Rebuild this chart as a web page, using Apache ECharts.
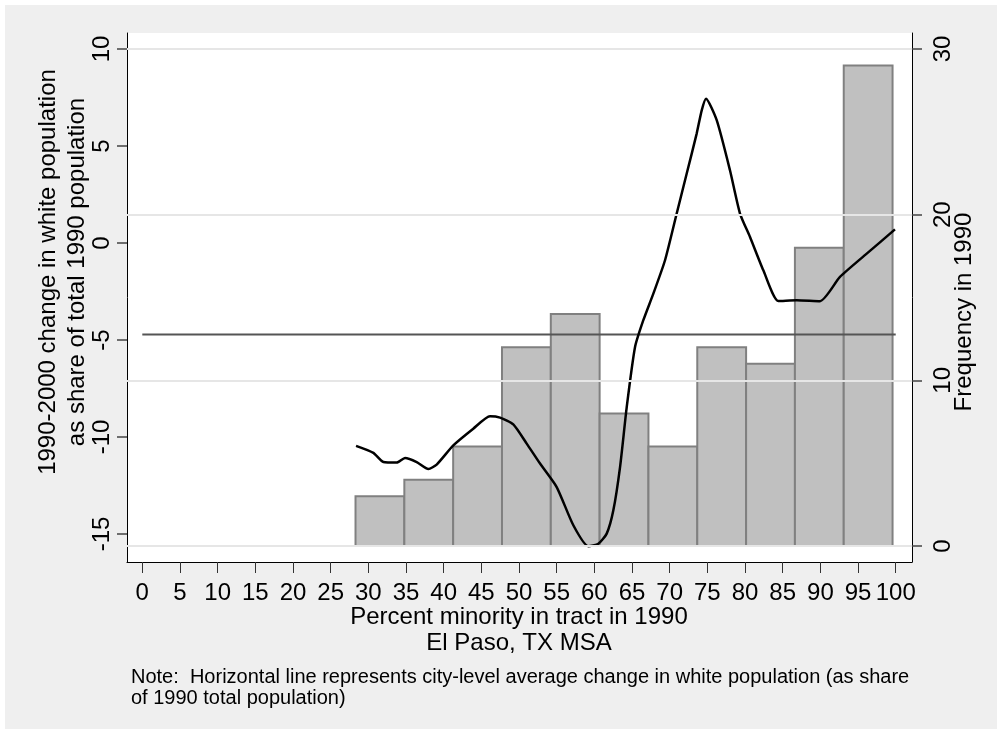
<!DOCTYPE html>
<html>
<head>
<meta charset="utf-8">
<script src="https://cdn.jsdelivr.net/npm/echarts@6/dist/echarts.min.js"></script>
<style>
html,body{margin:0;padding:0;background:#ffffff;}
#chart{width:997px;height:729px;}
</style>
</head>
<body>
<div id="chart"></div>
<script>
// ---- data ----
var xTicks = [0,5,10,15,20,25,30,35,40,45,50,55,60,65,70,75,80,85,90,95,100];
var leftTicks = [-15,-10,-5,0,5,10];
var rightTicks = [0,10,20,30];
var binEdges = [28.30,34.78,41.26,47.74,54.22,60.70,67.18,73.66,80.14,86.62,93.10,99.58];
var binCounts = [3,4,6,12,14,8,6,12,11,18,29];
var cityAverage = -4.72;
var cityLineX = [0,100];
var curveX = [28.37,30.67,32.0,33.77,34.87,36.42,37.97,39.07,41.28,43.93,46.15,47.48,49.24,51.02,52.79,55.0,57.21,59.2,60.53,61.64,62.52,63.41,64.3,65.4,66.5,67.83,69.38,70.93,72.26,73.58,74.25,74.82,76.24,78.0,79.33,80.66,82.43,84.42,86.86,89.95,92.6,96.15,99.9];
var curveY = [-10.46,-10.82,-11.29,-11.32,-11.08,-11.29,-11.65,-11.42,-10.43,-9.57,-8.93,-9.0,-9.35,-10.34,-11.37,-12.58,-14.55,-15.63,-15.5,-14.98,-13.78,-11.55,-8.45,-5.36,-3.98,-2.61,-0.89,1.52,3.58,5.64,6.84,7.44,6.33,3.75,1.52,0.31,-1.41,-2.99,-2.95,-3.0,-1.75,-0.55,0.7];

var FONT = '"Liberation Sans", Arial, Helvetica, sans-serif';

var histData = binCounts.map(function(c,i){ return [binEdges[i], binEdges[i+1], c]; });
var curveData = curveX.map(function(x,i){ return [x, curveY[i]]; });
var cityData = cityLineX.map(function(x){ return [x, cityAverage]; });

var chart = echarts.init(document.getElementById('chart'), null, {renderer:'canvas'});
chart.setOption({
  backgroundColor: 'transparent',
  animation: false,
  graphic: [
    {type:'rect', z:-10, silent:true, shape:{x:5,y:5,width:992,height:724}, style:{fill:'#efefef'}},
    {type:'text', z:10, x:48, y:272, rotation:Math.PI/2,
      style:{text:'1990-2000 change in white population', font:'24px '+FONT, fill:'#000', align:'center', verticalAlign:'middle'}},
    {type:'text', z:10, x:77, y:272, rotation:Math.PI/2,
      style:{text:'as share of total 1990 population', font:'24px '+FONT, fill:'#000', align:'center', verticalAlign:'middle'}},
    {type:'text', z:10, x:964, y:312, rotation:Math.PI/2,
      style:{text:'Frequency in 1990', font:'24px '+FONT, fill:'#000', align:'center', verticalAlign:'middle'}},
    {type:'text', z:10, x:519, y:617,
      style:{text:'Percent minority in tract in 1990', font:'24px '+FONT, fill:'#000', align:'center', verticalAlign:'middle'}},
    {type:'text', z:10, x:519, y:643,
      style:{text:'El Paso, TX MSA', font:'24px '+FONT, fill:'#000', align:'center', verticalAlign:'middle'}},
    {type:'text', z:10, x:131, y:677,
      style:{text:'Note:  Horizontal line represents city-level average change in white population (as share', font:'20px '+FONT, fill:'#000', align:'left', verticalAlign:'middle'}},
    {type:'text', z:10, x:131, y:698,
      style:{text:'of 1990 total population)', font:'20px '+FONT, fill:'#000', align:'left', verticalAlign:'middle'}}
  ],
  grid: {left:127, right:85, top:33, bottom:167, show:true, backgroundColor:'#ffffff', borderWidth:0},
  xAxis: {
    type:'value', min:-2.03, max:102.16,
    axisLine:{show:true, onZero:false, lineStyle:{color:'#000', width:1}},
    axisTick:{show:true, customValues:xTicks, length:11, lineStyle:{color:'#333', width:1}},
    axisLabel:{show:true, customValues:xTicks, margin:19, fontSize:24, fontFamily:FONT, color:'#000'},
    splitLine:{show:false}
  },
  yAxis: [
    {
      type:'value', position:'left', min:-16.443, max:10.825,
      axisLine:{show:true, onZero:false, lineStyle:{color:'#000', width:1}},
      axisTick:{show:true, customValues:leftTicks, length:10, lineStyle:{color:'#444', width:1.5}},
      axisLabel:{show:true, customValues:leftTicks, rotate:90, margin:13, fontSize:24, fontFamily:FONT, color:'#000'},
      splitLine:{show:false}
    },
    {
      type:'value', position:'right', min:-0.966, max:30.966,
      axisLine:{show:true, onZero:false, lineStyle:{color:'#000', width:1}},
      axisTick:{show:true, customValues:rightTicks, length:10, lineStyle:{color:'#444', width:1.5}},
      axisLabel:{show:true, customValues:rightTicks, rotate:90, margin:19, fontSize:24, fontFamily:FONT, color:'#000'},
      splitLine:{show:false}
    }
  ],
  series: [
    {
      type:'line', yAxisIndex:1, data:[], silent:true, z:1,
      markLine:{silent:true, symbol:['none','none'], label:{show:false},
        lineStyle:{color:'#e6e6e6', width:2, type:'solid'},
        data: rightTicks.map(function(v){ return {yAxis:v}; })}
    },
    {
      type:'custom', yAxisIndex:1, z:2, silent:true,
      data: histData,
      encode:{x:[0,1], y:2},
      renderItem: function(params, api){
        var p0 = api.coord([api.value(0), 0]);
        var p1 = api.coord([api.value(1), api.value(2)]);
        return {type:'rect', shape:{x:p0[0], y:p1[1], width:p1[0]-p0[0], height:p0[1]-p1[1]},
          style:{fill:'#c0c0c0', stroke:'#808080', lineWidth:2}};
      }
    },
    {
      type:'line', yAxisIndex:0, z:3, data:cityData, symbol:'none', silent:true,
      lineStyle:{color:'#555555', width:2}
    },
    {
      type:'line', yAxisIndex:0, z:4, data:curveData, symbol:'none', silent:true, smooth:0.2,
      lineStyle:{color:'#000000', width:2.5}
    }
  ]
});
</script>
</body>
</html>
